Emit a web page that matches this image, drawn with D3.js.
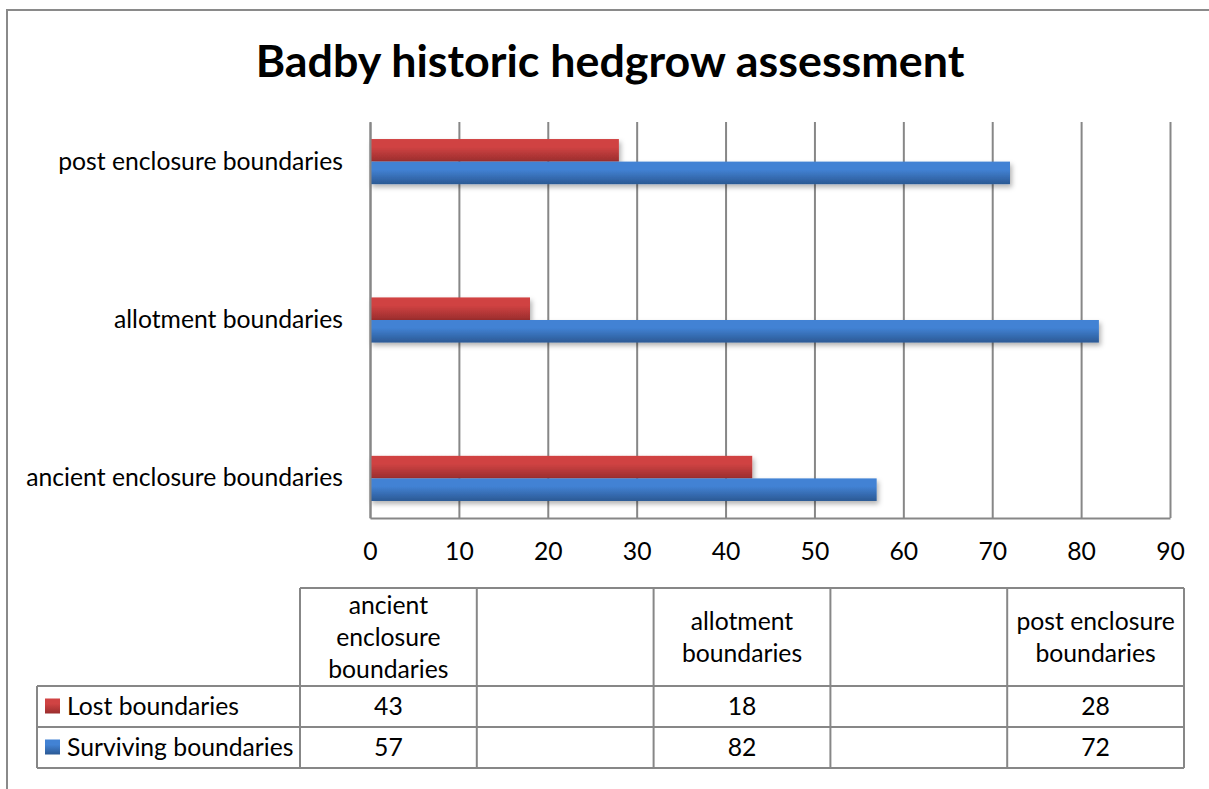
<!DOCTYPE html>
<html>
<head>
<meta charset="utf-8">
<script src="https://cdn.jsdelivr.net/npm/d3@7"></script>
<style>
  html, body { margin: 0; padding: 0; background: #fff; }
  svg { display: block; }
  text { font-family: Lato, "Open Sans", sans-serif; fill: #000; }
</style>
</head>
<body>
<svg id="chart" width="1209" height="789"></svg>
<script>
// Hedgerow categories, bottom to top; empty slots are spacer columns of the data table
const categories = ["ancient enclosure boundaries", "", "allotment boundaries", "", "post enclosure boundaries"];
const headerLines = [["ancient", "enclosure", "boundaries"], [], ["allotment", "boundaries"], [], ["post enclosure", "boundaries"]];
const seriesNames = ["Lost boundaries", "Surviving boundaries"];
const lostValues = [43, null, 18, null, 28];
const survivingValues = [57, null, 82, null, 72];
const xTicks = [0, 10, 20, 30, 40, 50, 60, 70, 80, 90];
const title = "Badby historic hedgrow assessment";

const series = [
  { name: seriesNames[0], values: lostValues, grad: "gradLost", c0: "#d04343", c1: "#9a2d2d", key: "#c33a3a" },
  { name: seriesNames[1], values: survivingValues, grad: "gradSurv", c0: "#4282d4", c1: "#2b5994", key: "#3a74c2" }
];

const svg = d3.select("#chart");
const gridColor = "#878787";

// text sizing helper: font size that gives a string the wanted width
function sizeFor(str, weight, width) {
  const t = svg.append("text").attr("font-size", 100).attr("font-weight", weight).text(str);
  const w = t.node().getComputedTextLength();
  t.remove();
  return 100 * width / w;
}
const baseSize = sizeFor("post enclosure boundaries", 400, 285);
const titleSize = sizeFor(title, 700, 709);

// defs: bar gradients and soft shadow
const defs = svg.append("defs");
series.forEach(s => {
  const g = defs.append("linearGradient").attr("id", s.grad).attr("x1", 0).attr("y1", 0).attr("x2", 0).attr("y2", 1);
  g.append("stop").attr("offset", "0%").attr("stop-color", s.c0);
  g.append("stop").attr("offset", "35%").attr("stop-color", s.c0);
  g.append("stop").attr("offset", "100%").attr("stop-color", s.c1);
});
const sh = defs.append("filter").attr("id", "shadow").attr("x", "-5%").attr("y", "-30%").attr("width", "115%").attr("height", "190%");
sh.append("feDropShadow").attr("dx", 2).attr("dy", 3).attr("stdDeviation", 2.5).attr("flood-color", "#000").attr("flood-opacity", 0.3);

// outer frame
svg.append("path").attr("d", "M7,789 L7,10 L1209,10").attr("fill", "none").attr("stroke", "#8a8a8a").attr("stroke-width", 2);

// title
svg.append("text").attr("x", 610).attr("y", 77).attr("text-anchor", "middle")
  .attr("font-size", titleSize).attr("font-weight", 700).text(title);

// plot area
const plot = { left: 370, right: 1170, top: 122, bottom: 518 };
const x = d3.scaleLinear().domain([0, 90]).range([plot.left, plot.right]);
const y = d3.scaleBand().domain(d3.range(categories.length)).range([plot.bottom, plot.top])
  .paddingInner(0.43).paddingOuter(0.215);
const ySub = d3.scaleBand().domain(series.map(s => s.name)).range([0, y.bandwidth()]);

// vertical gridlines
const grid = svg.append("g").attr("transform", `translate(0,${plot.bottom})`)
  .call(d3.axisBottom(x).tickValues(xTicks).tickSize(-(plot.bottom - plot.top)).tickFormat(""));
grid.select(".domain").remove();
grid.selectAll("line").attr("stroke", gridColor).attr("stroke-width", 2);

// bars
series.forEach(s => {
  svg.append("g").selectAll("rect")
    .data(s.values.map((v, i) => ({ v, i })).filter(d => d.v != null))
    .join("rect")
    .attr("x", x(0))
    .attr("y", d => y(d.i) + ySub(s.name))
    .attr("width", d => x(d.v) - x(0))
    .attr("height", ySub.bandwidth())
    .attr("fill", `url(#${s.grad})`)
    .attr("filter", "url(#shadow)");
});

// x axis
const xAxis = svg.append("g").attr("transform", `translate(0,${plot.bottom})`)
  .call(d3.axisBottom(x).tickValues(xTicks).tickSize(0).tickPadding(24));
xAxis.select(".domain").attr("stroke", gridColor).attr("stroke-width", 2);
xAxis.selectAll("text").attr("font-size", baseSize).attr("font-family", "Lato, sans-serif").attr("fill", "#000");

// y axis
const yAxis = svg.append("g").attr("transform", `translate(${plot.left},0)`)
  .call(d3.axisLeft(y).tickFormat(i => categories[i]).tickSize(0).tickPadding(27));
yAxis.select(".domain").attr("stroke", gridColor).attr("stroke-width", 2);
yAxis.selectAll("text").attr("font-size", baseSize).attr("font-family", "Lato, sans-serif").attr("fill", "#000");

// data table
const tbl = { left: 300, right: 1184, keyLeft: 37, headTop: 588, headBottom: 686, rowH: 41 };
const col = d3.scaleBand().domain(d3.range(categories.length)).range([tbl.left, tbl.right]);
const tg = svg.append("g").attr("stroke", gridColor).attr("stroke-width", 2).attr("fill", "none");
const tblBottom = tbl.headBottom + tbl.rowH * series.length;
tg.append("line").attr("x1", tbl.left).attr("x2", tbl.right).attr("y1", tbl.headTop).attr("y2", tbl.headTop);
d3.range(series.length + 1).forEach(r => {
  const yy = tbl.headBottom + r * tbl.rowH;
  tg.append("line").attr("x1", tbl.keyLeft).attr("x2", tbl.right).attr("y1", yy).attr("y2", yy);
});
tg.append("line").attr("x1", tbl.keyLeft).attr("x2", tbl.keyLeft).attr("y1", tbl.headBottom).attr("y2", tblBottom);
d3.range(categories.length + 1).forEach(c => {
  const xx = tbl.left + c * col.step();
  tg.append("line").attr("x1", xx).attr("x2", xx).attr("y1", tbl.headTop).attr("y2", tblBottom);
});

// header cells
const lineH = 32;
const headMid = (tbl.headTop + tbl.headBottom) / 2;
headerLines.forEach((lines, c) => {
  lines.forEach((ln, k) => {
    svg.append("text")
      .attr("x", col(c) + col.bandwidth() / 2)
      .attr("y", headMid + (k - (lines.length - 1) / 2) * lineH)
      .attr("dy", "0.35em")
      .attr("text-anchor", "middle").attr("font-size", baseSize).text(ln);
  });
});

// series rows with legend keys
series.forEach((s, r) => {
  const mid = tbl.headBottom + r * tbl.rowH + tbl.rowH / 2;
  svg.append("rect").attr("x", 45).attr("y", mid - 8).attr("width", 15).attr("height", 15)
    .attr("fill", `url(#${s.grad})`);
  svg.append("text").attr("x", 67).attr("y", mid).attr("dy", "0.35em")
    .attr("font-size", baseSize).text(s.name);
  s.values.forEach((v, c) => {
    if (v == null) return;
    svg.append("text").attr("x", col(c) + col.bandwidth() / 2).attr("y", mid).attr("dy", "0.35em")
      .attr("text-anchor", "middle").attr("font-size", baseSize).text(v);
  });
});
</script>
</body>
</html>
